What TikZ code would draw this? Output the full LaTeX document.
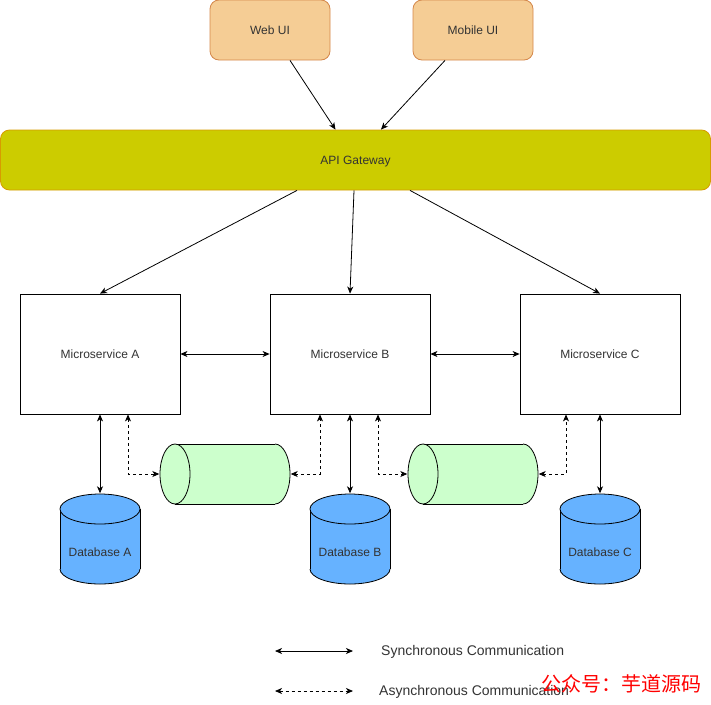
\documentclass[tikz,border=0pt]{standalone}
\usepackage{fontspec}
\setmainfont{Liberation Sans}
\newfontfamily\cjkfont{Noto Sans CJK SC}
\usetikzlibrary{arrows.meta}
\definecolor{uifill}{HTML}{F5CD95}
\definecolor{uiline}{HTML}{D4874A}
\definecolor{gwfill}{HTML}{CCCC00}
\definecolor{gwline}{HTML}{D79B00}
\definecolor{dbfill}{HTML}{66B2FF}
\definecolor{qfill}{HTML}{CCFFCC}
\definecolor{txt}{HTML}{333333}
\tikzset{
  boxtext/.style={text=txt, font=\fontsize{12}{14}\selectfont, text height=10.5pt, text depth=1pt},
  client/.style={boxtext, draw=uiline, fill=uifill, rounded corners=9pt, line width=0.8pt,
    minimum width=120pt, minimum height=60pt},
  gateway/.style={boxtext, draw=gwline, fill=gwfill, rounded corners=9pt, line width=0.8pt,
    minimum width=710pt, minimum height=60pt},
  service/.style={boxtext, draw, fill=white, line width=0.8pt,
    minimum width=160pt, minimum height=120pt},
  db/.style={text=txt, font=\fontsize{12}{14}\selectfont, text height=37pt, text depth=3pt,
    minimum width=81pt, minimum height=91pt, inner sep=0pt},
  queue/.style={minimum width=131pt, minimum height=61pt, inner sep=0pt},
  sync/.style={{Stealth[length=7pt,width=6pt,inset=2pt]}-{Stealth[length=7pt,width=6pt,inset=2pt]}, line width=0.8pt},
  async/.style={sync, dashed, dash pattern=on 3pt off 3pt},
  oneway/.style={-{Stealth[length=7pt,width=6pt,inset=2pt]}, line width=0.8pt},
  legend/.style={anchor=west, inner sep=0pt, text=txt, font=\fontsize{14}{16}\selectfont}
}
\newcommand{\database}[3]{%
  \begin{scope}[shift={(#2)}, line width=0.8pt]
    \fill[dbfill] (-40,-30) rectangle (40,30);
    \fill[dbfill] (0,30) ellipse [x radius=40, y radius=15];
    \draw (-40,-30) -- (-40,30) (40,-30) -- (40,30);
    \begin{scope}
      \clip (-41,30) rectangle (41,46);
      \draw (0,30) ellipse [x radius=40, y radius=15];
    \end{scope}
    \filldraw[fill=dbfill] (0,-30) ellipse [x radius=40, y radius=15];
  \end{scope}
  \node[db] (#1) at (#2) {#3};}
\newcommand{\msgqueue}[2]{%
  \begin{scope}[shift={(#2)}, line width=0.8pt]
    \fill[qfill] (-50,-30) rectangle (50,30);
    \fill[qfill] (50,0) ellipse [x radius=15, y radius=30];
    \draw (-50,-30) -- (50,-30) (-50,30) -- (50,30);
    \begin{scope}
      \clip (50,-31) rectangle (66,31);
      \draw (50,0) ellipse [x radius=15, y radius=30];
    \end{scope}
    \filldraw[fill=qfill] (-50,0) ellipse [x radius=15, y radius=30];
  \end{scope}
  \node[queue] (#1) at (#2) {};}
\begin{document}
\begin{tikzpicture}[x=1pt,y=-1pt]
\useasboundingbox (0,0) rectangle (711,704);
\node[client] (webui) at (270,30) {Web UI};
\node[client] (mobileui) at (473,30) {Mobile UI};
\node[gateway] (gw) at (355.5,160) {API Gateway};
\node[service] (msa) at (100,354) {Microservice A};
\node[service] (msb) at (350,354) {Microservice B};
\node[service] (msc) at (600,354) {Microservice C};
\database{dba}{100,539}{Database A}
\database{dbb}{350,539}{Database B}
\database{dbc}{600,539}{Database C}
\msgqueue{qab}{225,474}
\msgqueue{qbc}{473,474}

\path[oneway] ([xshift=20pt]webui.south) edge ([xshift=-20pt]gw.north);
\path[oneway] ([xshift=-28pt]mobileui.south) edge ([xshift=25.5pt]gw.north);
\path[oneway] ([xshift=-58.5pt]gw.south) edge (msa.north);
\path[oneway] ([xshift=-1.5pt]gw.south) edge (msb.north);
\path[oneway] ([xshift=54.5pt]gw.south) edge (msc.north);
\path[sync] (msa.east) edge (msb.west);
\path[sync] (msb.east) edge (msc.west);
\path[sync] (msa.south) edge (dba.north);
\path[sync] (msb.south) edge (dbb.north);
\path[sync] (msc.south) edge (dbc.north);
\draw[async] ([xshift=28pt]msa.south) |- (qab.west);
\draw[async] (qab.east) -| ([xshift=-30pt]msb.south);
\draw[async] ([xshift=28pt]msb.south) |- (qbc.west);
\draw[async] (qbc.east) -| ([xshift=-34pt]msc.south);

\coordinate (syncl) at (275,651);
\coordinate (syncr) at (353,651);
\coordinate (asyncl) at (275,691);
\coordinate (asyncr) at (353,691);
\draw[sync] (syncl) -- (syncr);
\draw[async] (asyncl) -- (asyncr);
\node[legend] (synctext) at (381,652) {Synchronous Communication};
\node[legend] (asynctext) at (379,692) {Asynchronous Communication};
\node[anchor=west, inner sep=0pt, text=red, font=\cjkfont\fontsize{20}{22}\selectfont] (mark) at (541,684) {公众号：芋道源码};
\end{tikzpicture}
\end{document}
